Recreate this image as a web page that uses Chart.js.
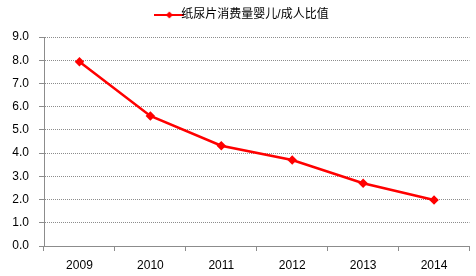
<!DOCTYPE html>
<html>
<head>
<meta charset="utf-8">
<script src="https://cdn.jsdelivr.net/npm/chart.js@4/dist/chart.umd.min.js"></script>
<style>
  html, body { margin: 0; padding: 0; background: #fff; }
  #wrap { width: 476px; height: 276px; }
</style>
</head>
<body>
<div id="wrap"><canvas id="c" width="476" height="276"></canvas></div>
<script>
// data
const years = ['2009', '2010', '2011', '2012', '2013', '2014'];
const ratio = [7.93, 5.6, 4.32, 3.7, 2.7, 1.98];
const seriesName = '纸尿片消费量婴儿/成人比值';

const RED = '#ff0000';
const GRID = '#8c8c8c';
const FONT = 'Arial, "Liberation Sans", "Noto Sans CJK SC", sans-serif';

// legend marker: short line with a diamond in the middle
function legendMarker() {
  const cv = document.createElement('canvas');
  cv.width = 30; cv.height = 8;
  const g = cv.getContext('2d');
  g.strokeStyle = RED; g.lineWidth = 2;
  g.beginPath(); g.moveTo(0, 4); g.lineTo(30, 4); g.stroke();
  g.fillStyle = RED;
  g.beginPath(); g.moveTo(15, 0.5); g.lineTo(18.5, 4); g.lineTo(15, 7.5); g.lineTo(11.5, 4); g.closePath(); g.fill();
  return cv;
}

// push the plot area down below the legend, and centre the legend over the plot
const legendGap = {
  id: 'legendGap',
  afterInit(chart) {
    const lg = chart.legend;
    const fit = lg.fit.bind(lg);
    lg.fit = function () { fit(); this.height += 6; };
  },
  afterLayout(chart) {
    chart.legend.left += 22;
  }
};

new Chart(document.getElementById('c'), {
  type: 'line',
  data: {
    labels: years,
    datasets: [{
      label: seriesName,
      data: ratio,
      borderColor: RED,
      backgroundColor: RED,
      borderWidth: 2.5,
      tension: 0,
      pointStyle: 'rectRot',
      pointRadius: 3,
      pointBackgroundColor: RED,
      pointBorderColor: RED
    }]
  },
  plugins: [legendGap],
  options: {
    responsive: false,
    animation: false,
    devicePixelRatio: 1,
    layout: { padding: { top: 2, right: 6, left: 0, bottom: 0 } },
    plugins: {
      tooltip: { enabled: false },
      legend: {
        position: 'top',
        labels: {
          usePointStyle: true,
          color: '#404040',
          font: { family: FONT, size: 12 },
          padding: 7,
          generateLabels: () => [{
            text: seriesName,
            pointStyle: legendMarker(),
            fillStyle: RED,
            strokeStyle: RED,
            lineWidth: 0,
            datasetIndex: 0,
            hidden: false
          }]
        }
      }
    },
    scales: {
      x: {
        offset: true,
        afterFit: (s) => { s.height = 30; },
        grid: {
          offset: true,
          drawOnChartArea: false,
          drawTicks: true,
          tickLength: 5,
          color: GRID
        },
        border: { display: true, color: GRID, width: 1 },
        ticks: { color: '#000', font: { family: FONT, size: 12 }, padding: 7, maxRotation: 0 }
      },
      y: {
        min: 0,
        max: 9,
        afterFit: (s) => { s.width = 44; },
        grid: {
          color: GRID,
          lineWidth: 1,
          drawTicks: true,
          tickLength: 5,
          tickColor: GRID,
          tickBorderDash: []
        },
        border: { display: true, color: GRID, width: 1, dash: [1, 1] },
        ticks: {
          stepSize: 1,
          color: '#000',
          font: { family: FONT, size: 12 },
          padding: 10,
          callback: (v) => Number(v).toFixed(1)
        }
      }
    }
  }
});
</script>
</body>
</html>
